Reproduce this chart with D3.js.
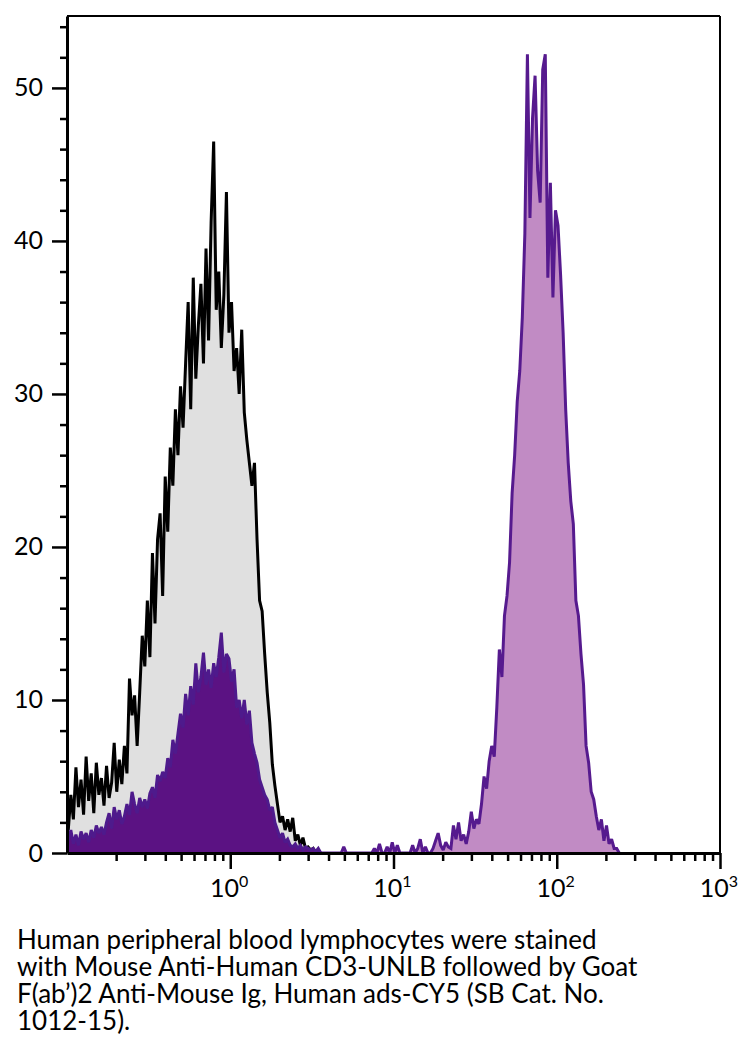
<!DOCTYPE html>
<html>
<head>
<meta charset="utf-8">
<script src="https://cdn.jsdelivr.net/npm/d3@7"></script>
<style>
body { margin: 0; background: #fff; }
svg text { font-family: Lato, "Open Sans", sans-serif; fill: #000; }
</style>
</head>
<body>
<svg id="chart" width="750" height="1049"></svg>
<script>
// histogram channels, log spaced over the x domain
const xDomain = [0.1, 1000]
const yDomain = [0, 54.7]
const channelCount = 256

// control (unstained) - counts from channel 0
const controlCounts = [
    1.5, 3.8, 2.2, 5.6, 3.0, 4.8, 2.5, 6.3, 3.4, 5.2,
    2.6, 5.9, 3.8, 4.9, 3.1, 5.7, 3.6, 4.6, 7.2, 4.0,
    6.1, 4.5, 7.0, 5.2, 11.4, 9.0, 10.3, 7.0, 10.5, 14.2,
    12.2, 16.5, 12.8, 19.6, 15.0, 20.5, 22.2, 16.8, 24.6, 21.0,
    26.5, 24.0, 29.0, 26.0, 30.5, 27.8, 32.0, 36.0, 29.0, 37.6,
    31.0, 34.5, 37.2, 32.0, 39.5, 33.5, 41.2, 46.5, 35.5, 38.0,
    33.0, 36.5, 43.2, 34.0, 36.0, 31.5, 33.0, 30.0, 34.2, 28.8,
    27.0, 25.5, 24.0, 25.5, 20.5, 16.5, 15.8, 13.0, 10.5, 8.5,
    5.8, 4.4, 3.2, 2.0, 2.4, 1.5, 2.2, 1.4, 2.3, 0.8,
    1.2, 0.5, 1.0, 0.3, 0.4, 0.2, 0.3, 0
]
const controlStart = 0

// stained sample, CD3 negative gate - from channel 0
const negCounts = [
    0.8, 1.5, 0.6, 1.2, 0.5, 1.4, 0.9, 1.3, 0.7, 1.5,
    1.0, 1.8, 1.3, 1.7, 1.2, 2.0, 2.6, 1.6, 3.0, 2.2,
    2.8, 1.9, 2.4, 3.2, 2.5, 4.0, 3.2, 2.6, 3.6, 3.0,
    3.5, 2.9, 3.9, 4.3, 3.6, 5.1, 4.7, 5.3, 4.9, 6.2,
    5.6, 7.4, 6.5, 7.8, 9.1, 8.2, 10.4, 9.0, 10.9, 9.7,
    12.4, 10.5, 11.5, 13.1, 11.0, 12.0, 10.8, 12.4, 11.5, 12.8,
    14.4, 11.8, 13.0, 12.7, 11.2, 12.0, 9.5, 10.0, 8.8, 10.0,
    8.4, 9.3, 7.2, 6.5, 5.9, 4.8, 4.3, 3.8, 3.5, 2.8,
    3.0, 2.0, 1.5, 1.0, 1.3, 0.7, 0.9, 0.5, 0.4, 0.6,
    0.3, 0.5, 0.2, 0.4, 0.3, 0.2, 0.3, 0.1, 0.3, 0
]
const negStart = 0

// stained sample, CD3 positive gate - from channel 99
const posCounts = [
    0, 0, 0, 0, 0, 0, 0, 0, 0, 0.4,
    0, 0, 0, 0, 0, 0, 0, 0, 0, 0,
    0, 0.3, 0, 0.6, 0, 0, 0.4, 0, 0.7, 0,
    0.5, 0, 0, 0, 0, 0, 0.5, 0, 0.3, 0.9,
    0, 0.4, 0, 0, 0.3, 0.8, 1.3, 0.5, 0.2, 0.7,
    0.4, 0.3, 1.8, 0.9, 2.0, 0.8, 1.2, 0.6, 1.4, 2.7,
    1.6, 2.2, 1.9, 3.2, 5.0, 4.2, 6.0, 7.0, 6.3, 9.5,
    13.3, 11.5, 15.5, 16.8, 19.0, 23.5, 26.0, 29.5, 31.5, 35.0,
    40.5, 52.2, 41.5, 48.0, 50.8, 44.6, 42.5, 51.2, 52.2, 37.6,
    43.8, 36.3, 42.0, 41.0, 37.8, 34.0, 29.0, 25.5, 23.0, 21.5,
    16.5, 15.5, 13.0, 11.0, 7.0, 5.9, 4.0, 3.5, 2.4, 1.5,
    2.2, 0.8, 1.8, 0.6, 0.9, 0.3, 0.3, 0
]
const posStart = 99

const yMajorTicks = [0, 10, 20, 30, 40, 50]
const yMinorTicks = [2, 4, 6, 8, 12, 14, 16, 18, 22, 24, 26, 28, 32, 34, 36, 38, 42, 44, 46, 48, 52, 54]
const xMajorTicks = [1, 10, 100, 1000]
const xTickExponents = ["0", "1", "2", "3"]
const xMinorTicks = [0.2, 0.3, 0.4, 0.5, 0.6, 0.7, 0.8, 0.9,
    2, 3, 4, 5, 6, 7, 8, 9,
    20, 30, 40, 50, 60, 70, 80, 90,
    200, 300, 400, 500, 600, 700, 800, 900]

const caption = [
    "Human peripheral blood lymphocytes were stained",
    "with Mouse Anti-Human CD3-UNLB followed by Goat",
    "F(ab\u2019)2 Anti-Mouse Ig, Human ads-CY5 (SB Cat. No.",
    "1012-15)."
]

const margin = { left: 67, right: 720, top: 16, bottom: 853 }

const x = d3.scaleLog().domain(xDomain).range([margin.left, margin.right])
const y = d3.scaleLinear().domain(yDomain).range([margin.bottom, margin.top])

const logMin = Math.log10(xDomain[0])
const logSpan = Math.log10(xDomain[1]) - logMin
function channelValue(i) {
    return Math.pow(10, logMin + (i + 0.5) * logSpan / channelCount)
}
function toPoints(counts, start) {
    return counts.map((c, k) => [channelValue(start + k), c])
}

const area = d3.area()
    .x(d => x(d[0]))
    .y0(y(0))
    .y1(d => y(d[1]))
const line = d3.line()
    .x(d => x(d[0]))
    .y(d => y(d[1]))

const svg = d3.select("#chart")

svg.append("clipPath").attr("id", "plotClip")
    .append("rect")
    .attr("x", margin.left).attr("y", margin.top)
    .attr("width", margin.right - margin.left)
    .attr("height", margin.bottom - margin.top)

const plot = svg.append("g").attr("clip-path", "url(#plotClip)")

const series = [
    { pts: toPoints(controlCounts, controlStart), fill: "#e0e0e0", stroke: "#000" },
    { pts: toPoints(negCounts, negStart), fill: "#5b1283", stroke: "#4e1a8c" },
    { pts: toPoints(posCounts, posStart), fill: "#c18bc4", stroke: "#561a8e" }
]

series.forEach(s => {
    plot.append("path")
        .attr("d", area(s.pts))
        .attr("fill", s.fill)
    plot.append("path")
        .attr("d", line(s.pts))
        .attr("fill", "none")
        .attr("stroke", s.stroke)
        .attr("stroke-width", 3)
        .attr("stroke-linejoin", "miter")
        .attr("stroke-miterlimit", 2)
})

// frame top / right
svg.append("line")
    .attr("x1", margin.left).attr("x2", margin.right)
    .attr("y1", margin.top).attr("y2", margin.top)
    .attr("stroke", "#000").attr("stroke-width", 2)
svg.append("line")
    .attr("x1", margin.right).attr("x2", margin.right)
    .attr("y1", margin.top).attr("y2", margin.bottom)
    .attr("stroke", "#000").attr("stroke-width", 2)

// y axis
const yAxis = svg.append("g")
    .attr("transform", "translate(" + margin.left + ",0)")
    .call(d3.axisLeft(y).tickValues(yMajorTicks).tickSize(15).tickSizeOuter(0)
        .tickPadding(9).tickFormat(d3.format("d")))
yAxis.append("g")
    .call(d3.axisLeft(y).tickValues(yMinorTicks).tickSize(7).tickSizeOuter(0).tickFormat(""))
    .select(".domain").remove()

// x axis
const xAxis = svg.append("g")
    .attr("transform", "translate(0," + margin.bottom + ")")
    .call(d3.axisBottom(x).tickValues(xMajorTicks).tickSize(16).tickSizeOuter(0).tickFormat(""))
xAxis.append("g")
    .call(d3.axisBottom(x).tickValues(xMinorTicks).tickSize(8).tickSizeOuter(0).tickFormat(""))
    .select(".domain").remove()

svg.selectAll(".domain").attr("stroke-width", 3)
svg.selectAll(".tick line").attr("stroke-width", 2.5)
svg.selectAll(".tick text").attr("font-size", 25).attr("font-family", "Lato")

// x labels with exponent
xMajorTicks.forEach((v, i) => {
    const t = svg.append("text")
        .attr("x", x(v) - 1)
        .attr("y", 897)
        .attr("text-anchor", "middle")
        .attr("font-size", 25)
    t.append("tspan").text("10")
    t.append("tspan")
        .attr("font-size", 16)
        .attr("dy", -10)
        .text(xTickExponents[i])
})

// caption
svg.append("g").selectAll("text")
    .data(caption)
    .enter().append("text")
    .attr("x", 17)
    .attr("y", (d, i) => 949 + i * 27)
    .attr("font-size", 26)
    .text(d => d)
</script>
</body>
</html>
